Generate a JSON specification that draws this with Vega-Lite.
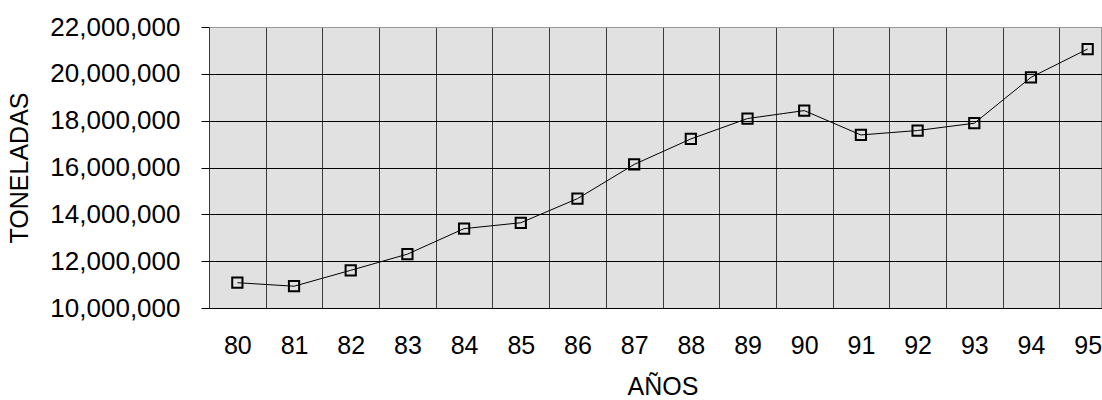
{
  "$schema": "https://vega.github.io/schema/vega-lite/v6.json",
  "width": 892,
  "height": 281,
  "autosize": {"type": "none"},
  "padding": {"left": 209, "top": 27, "right": 1, "bottom": 92},
  "background": "white",
  "config": {
    "font": "Liberation Sans",
    "view": {"fill": "#e1e1e1", "stroke": "#999999", "strokeWidth": 1}
  },
  "data": {
    "values": [
      {"anio": 80, "toneladas": 11080000},
      {"anio": 81, "toneladas": 10930000},
      {"anio": 82, "toneladas": 11610000},
      {"anio": 83, "toneladas": 12300000},
      {"anio": 84, "toneladas": 13390000},
      {"anio": 85, "toneladas": 13640000},
      {"anio": 86, "toneladas": 14670000},
      {"anio": 87, "toneladas": 16130000},
      {"anio": 88, "toneladas": 17220000},
      {"anio": 89, "toneladas": 18090000},
      {"anio": 90, "toneladas": 18430000},
      {"anio": 91, "toneladas": 17390000},
      {"anio": 92, "toneladas": 17580000},
      {"anio": 93, "toneladas": 17890000},
      {"anio": 94, "toneladas": 19850000},
      {"anio": 95, "toneladas": 21060000}
    ]
  },
  "encoding": {
    "x": {
      "field": "anio",
      "type": "ordinal",
      "scale": {"type": "band", "paddingInner": 0, "paddingOuter": 0, "range": [0, 907]},
      "axis": {
        "title": "AÑOS",
        "tickBand": "extent",
        "grid": true,
        "gridColor": "#3a3a3a",
        "gridWidth": 1,
        "ticks": false,
        "domain": false,
        "labelAngle": 0,
        "labelFontSize": 25,
        "labelColor": "black",
        "labelPadding": 25,
        "titleFontSize": 25,
        "titleFontWeight": "normal",
        "titleColor": "black",
        "titlePadding": 16
      }
    },
    "y": {
      "field": "toneladas",
      "type": "quantitative",
      "scale": {"domain": [10000000, 22000000], "nice": false, "zero": false},
      "axis": {
        "title": "TONELADAS",
        "values": [10000000, 12000000, 14000000, 16000000, 18000000, 20000000, 22000000],
        "format": ",d",
        "grid": true,
        "gridColor": {"condition": {"test": "datum.value === 22000000", "value": "#999999"}, "value": "black"},
        "gridWidth": 1,
        "ticks": true,
        "tickSize": 8,
        "tickColor": "black",
        "domain": false,
        "labelFontSize": 26,
        "labelColor": "black",
        "labelPadding": 21,
        "titleFontSize": 25,
        "titleFontWeight": "normal",
        "titleColor": "black",
        "titlePadding": 17
      }
    }
  },
  "layer": [
    {"mark": {"type": "line", "color": "black", "strokeWidth": 1}},
    {"mark": {"type": "point", "shape": "square", "filled": false, "stroke": "black", "strokeWidth": 2, "size": 105, "opacity": 1}}
  ]
}
